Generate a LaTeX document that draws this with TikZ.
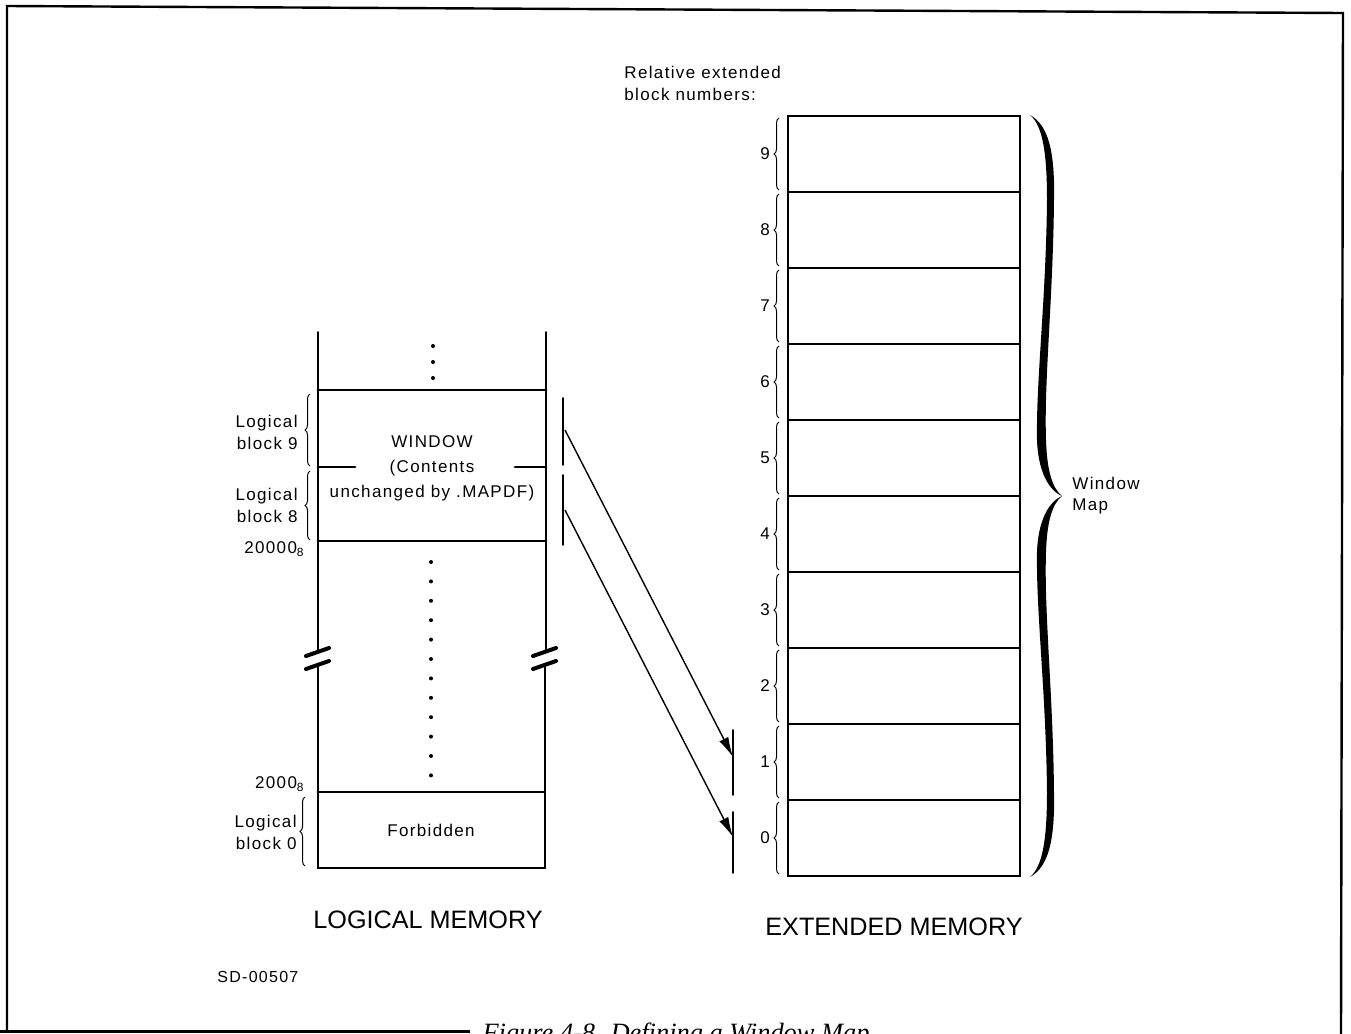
\documentclass[tikz,border=0pt]{standalone}
\usepackage{fontspec}
\setmainfont{Liberation Sans}[LetterSpace=8]
\newfontfamily\titlefont{Liberation Sans}
\newfontfamily\capfont{Liberation Serif}
\usepackage{tikz}
\usetikzlibrary{arrows.meta, decorations.pathreplacing}
\usepackage{tkz-euclide}

\begin{document}
\begin{tikzpicture}[x=0.5pt, y=-0.5pt,
    wall/.style={line width=1pt},
    bar/.style={line width=1.4pt},
    lbl/.style={font=\fontsize{8.5}{11}\selectfont, inner sep=0pt},
    smallbrace/.style={decorate, decoration={brace, amplitude=2.5pt}, line width=0.5pt},
    breakmark/.style={line width=2pt, line cap=round},
    marker/.style={line width=0.8pt},
    maparrow/.style={line width=0.7pt, -{Latex[length=10pt, width=5pt]}},
    title/.style={font=\titlefont\fontsize{12.6}{14}\selectfont, inner sep=0pt}]
      \clip (0,0) rectangle (1351,1034);
      \fill[white] (0,0) rectangle (1351,1034);

      % 1. page frame
      \draw[line width=1.5pt] (470,1031) -- (0,1031);
      \draw[line width=1.2pt] (7,1031) -- (7,6) -- (1343,13) -- (1341,1034);

      % 2. logical memory: walls with break marks
      \tkzDefPoint(318,332){LTa}  \tkzDefPoint(318,651){LTb}
      \tkzDefPoint(318,664){LBa}  \tkzDefPoint(318,868){LBb}
      \tkzDefPoint(546,332){RTa}  \tkzDefPoint(546,651){RTb}
      \tkzDefPoint(545,664){RBa}  \tkzDefPoint(545,868){RBb}
      \tkzDrawSegments[wall](LTa,LTb LBa,LBb RTa,RTb RBa,RBb)
      \draw[breakmark] (306,656) -- (329,648) (306,669) -- (329,661);
      \draw[breakmark] (533,656) -- (556,648) (533,669) -- (556,661);

      % 3. block boundaries
      \tkzDefPoint(318,390){W9a}  \tkzDefPoint(546,390){W9b}
      \tkzDefPoint(318,541){W8a}  \tkzDefPoint(546,541){W8b}
      \tkzDefPoint(318,792){F0a}  \tkzDefPoint(545,792){F0b}
      \tkzDefPoint(318,868){F1a}  \tkzDefPoint(545,868){F1b}
      \tkzDefPoint(318,467){Mda}  \tkzDefPoint(355,467){Mdb}
      \tkzDefPoint(515,467){Mdc}  \tkzDefPoint(546,467){Mdd}
      \tkzDrawSegments[bar](W9a,W9b W8a,W8b F0a,F0b F1a,F1b Mda,Mdb Mdc,Mdd)
      \foreach \y in {346,362,378} \fill (433,\y) circle (2);
      \foreach \i in {0,...,11} \fill (431,{562+19.4*\i}) circle (2);

      \node[lbl, align=center, font=\fontsize{8.5}{12.5}\selectfont] (window) at (432,468)
        {WINDOW\\(Contents\\unchanged by .MAPDF)};
      \node[lbl] (forbid) at (431,830) {Forbidden};

      % 4. labels left of logical memory
      \node[lbl, align=right, anchor=east] (lb9) at (298,432) {Logical\\block 9};
      \node[lbl, align=right, anchor=east] (lb8) at (298,505) {Logical\\block 8};
      \node[lbl, align=right, anchor=east] (lb0) at (297,832) {Logical\\block 0};
      \node[lbl, anchor=east] (a20000) at (305,549) {20000\textsubscript{8}};
      \node[lbl, anchor=east] (a2000) at (305,784) {2000\textsubscript{8}};
      \draw[smallbrace] (310,466) -- (310,394);
      \draw[smallbrace] (310,540) -- (310,471);
      \draw[smallbrace] (305,866) -- (305,797);

      % 5. extended memory
      \tkzDefPoint(788,116){XTL}  \tkzDefPoint(1020,876){XBR}
      \draw[bar] (XTL) rectangle (XBR);
      \foreach \i in {1,...,9} \draw[bar] (788,{116+76*\i}) -- (1020,{116+76*\i});
      \foreach \k in {0,...,9} {
        \node[lbl] (num\k) at (765,{838-76*\k}) {\k};
        \draw[smallbrace] (779,{874-76*\k}) -- (779,{802-76*\k});
      }
      \node[lbl, align=left, anchor=north west] (relnum) at (624,66)
        {Relative extended\\block numbers:};

      % 6. window map brace
      \fill (1030,115) .. controls (1048,125) and (1055,150) .. (1054,200)
        .. controls (1053,300) and (1044,380) .. (1046,440)
        .. controls (1047,470) and (1052,488) .. (1062,496)
        .. controls (1052,504) and (1047,522) .. (1046,552)
        .. controls (1044,612) and (1053,692) .. (1054,792)
        .. controls (1055,842) and (1048,867) .. (1030,877)
        .. controls (1042,867) and (1047,842) .. (1047,792)
        .. controls (1046,692) and (1036,612) .. (1037,552)
        .. controls (1038,522) and (1048,502) .. (1062,496)
        .. controls (1048,490) and (1038,470) .. (1037,440)
        .. controls (1036,380) and (1046,300) .. (1047,200)
        .. controls (1047,150) and (1042,125) .. (1030,115) -- cycle;
      \node[lbl, align=left, anchor=west, font=\fontsize{8.5}{10.5}\selectfont] (wmap) at (1072,496)
        {Window\\Map};

      % 7. mapping markers and arrows
      \tkzDefPoint(563,398){Sa}  \tkzDefPoint(563,465){Sb}
      \tkzDefPoint(563,475){Sc}  \tkzDefPoint(563,545){Sd}
      \tkzDefPoint(733,730){Ta}  \tkzDefPoint(733,795){Tb}
      \tkzDefPoint(733,812){Tc}  \tkzDefPoint(733,873){Td}
      \tkzDrawSegments[marker](Sa,Sb Sc,Sd Ta,Tb Tc,Td)
      \coordinate (src9) at (565,430);  \coordinate (dst1) at (733,757);
      \coordinate (src8) at (565,510);  \coordinate (dst0) at (733,837);
      \draw[maparrow] (src9) -- (dst1);
      \draw[maparrow] (src8) -- (dst0);

      % 8. titles
      \node[title] (logmem) at (428,920) {LOGICAL MEMORY};
      \node[title] (extmem) at (894,927) {EXTENDED MEMORY};
      \node[lbl, anchor=west, font=\fontsize{8}{10}\selectfont] (sdnum) at (217,977) {SD-00507};
      \node[inner sep=0pt, anchor=base, font=\capfont\itshape\fontsize{13.2}{16}\selectfont] (caption)
        at (676,1041) {Figure 4-8. Defining a Window Map};
\end{tikzpicture}
\end{document}
